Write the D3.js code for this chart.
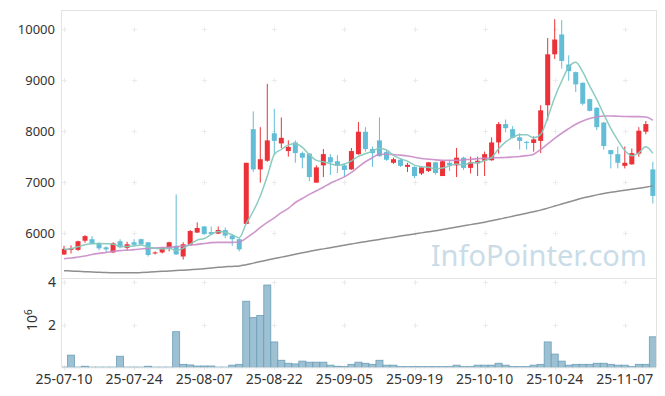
<!DOCTYPE html>
<html><head><meta charset="utf-8">
<script src="https://cdn.jsdelivr.net/npm/d3@7"></script>
<style>body{margin:0;background:#fff}svg{display:block}</style>
</head><body>
<svg id="c" width="665" height="396"></svg>
<script>
const dates = [
"25-07-10","25-07-11","25-07-14","25-07-15","25-07-16","25-07-17","25-07-18","25-07-21","25-07-22","25-07-23",
"25-07-24","25-07-25","25-07-28","25-07-29","25-07-30","25-07-31","25-08-01","25-08-04","25-08-05","25-08-06",
"25-08-07","25-08-08","25-08-11","25-08-12","25-08-13","25-08-14","25-08-18","25-08-19","25-08-20","25-08-21",
"25-08-22","25-08-25","25-08-26","25-08-27","25-08-28","25-08-29","25-09-01","25-09-02","25-09-03","25-09-04",
"25-09-05","25-09-08","25-09-09","25-09-10","25-09-11","25-09-12","25-09-15","25-09-16","25-09-17","25-09-18",
"25-09-19","25-09-22","25-09-23","25-09-24","25-09-25","25-09-26","25-09-29","25-09-30","25-10-01","25-10-02",
"25-10-10","25-10-13","25-10-14","25-10-15","25-10-16","25-10-17","25-10-20","25-10-21","25-10-22","25-10-23",
"25-10-24","25-10-27","25-10-28","25-10-29","25-10-30","25-10-31","25-11-03","25-11-04","25-11-05","25-11-06",
"25-11-07","25-11-10","25-11-11","25-11-12","25-11-13"];
const opens = [
5580,5670,5670,5850,5880,5800,5720,5620,5840,5710,
5820,5880,5820,5600,5620,5700,5750,5540,5770,6010,
6130,6020,5990,6060,5950,5880,6180,8040,7250,7420,
7960,7760,7610,7780,7570,7560,6990,7330,7490,7410,
7330,7250,7550,7990,7650,7820,7590,7380,7440,7300,
7300,7170,7220,7390,7120,7380,7330,7480,7280,7370,
7420,7430,7780,8140,8040,7880,7790,7770,7810,8510,
9510,9900,9310,9160,8950,8630,8460,8170,7630,7550,
7320,7350,7560,7990,7250];
const highs = [
5750,5760,5850,5960,5940,5820,5740,5820,5880,5830,
5880,5890,5820,5640,5720,5830,6760,5820,6060,6210,
6140,6130,6130,6110,5980,5900,7380,8390,8080,8930,
8440,8270,7820,7820,7600,7570,7330,7650,7550,7530,
7370,7670,8180,8080,7700,8270,7620,7480,7460,7380,
7310,7300,7390,7400,7430,7420,7670,7500,7500,7500,
7600,7880,8180,8230,8100,7960,7810,7900,8510,9830,
10200,10180,9490,9170,8960,8640,8470,8180,7630,7700,
7700,7660,8080,8200,7400];
const lows = [
5570,5600,5650,5810,5780,5660,5610,5610,5700,5670,
5740,5770,5540,5580,5600,5640,5570,5480,5760,6000,
5970,5960,5980,5900,5750,5640,6180,7200,6990,7400,
7550,7670,7500,7380,7270,7020,6990,7100,7140,7180,
7100,7240,7540,7600,7300,7500,7420,7360,7300,7200,
7080,7140,7200,7150,7120,7220,7100,7240,7170,7120,
7120,7420,7560,7980,7860,7640,7640,7600,7570,8210,
9420,9230,8990,8770,8510,8390,8020,7640,7270,7270,
7270,7340,7500,7940,6580];
const closes = [
5690,5700,5840,5940,5790,5700,5680,5800,5720,5780,
5770,5780,5570,5620,5710,5820,5580,5780,6040,6100,
5980,5980,6060,5950,5880,5680,7380,7250,7450,7820,
7810,7870,7690,7570,7480,7100,7290,7550,7390,7320,
7240,7610,7990,7650,7570,7510,7440,7450,7320,7340,
7120,7290,7390,7180,7410,7330,7480,7280,7390,7420,
7550,7780,8140,8060,7870,7810,7770,7840,8410,9510,
9800,9380,9180,8920,8540,8400,8080,7710,7550,7380,
7380,7570,8010,8140,6730];
const ma5 = [
5680,5690,5730,5770,5791,5794,5790,5782,5738,5735,
5748,5768,5722,5702,5689,5700,5659,5701,5784,5862,
5893,5974,6030,6012,5968,5909,6189,6428,6728,7118,
7543,7641,7727,7752,7683,7541,7427,7399,7361,7330,
7356,7419,7506,7558,7609,7664,7632,7525,7459,7412,
7335,7304,7291,7264,7277,7319,7358,7337,7378,7380,
7423,7483,7654,7790,7880,7933,7930,7870,7939,8267,
8664,8986,9255,9356,9163,8884,8625,8331,8057,7824,
7620,7518,7577,7694,7565];
const ma20 = [
5496,5510,5530,5550,5580,5602,5620,5640,5655,5665,
5675,5688,5700,5706,5714,5722,5731,5745,5760,5778,
5795,5812,5818,5818,5818,5825,5900,6000,6110,6210,
6300,6400,6484,6600,6680,6760,6830,6900,6980,7040,
7104,7190,7300,7400,7480,7548,7548,7540,7530,7515,
7490,7464,7450,7438,7431,7428,7428,7435,7451,7460,
7468,7475,7480,7484,7495,7505,7520,7548,7640,7750,
7860,7960,8050,8137,8200,8250,8280,8300,8300,8295,
8290,8287,8287,8280,8215];
const ma120 = [
5261,5255,5249,5243,5237,5231,5226,5222,5220,5220,
5220,5225,5232,5240,5249,5256,5264,5272,5280,5288,
5300,5315,5330,5338,5345,5353,5380,5410,5440,5471,
5500,5528,5556,5584,5612,5640,5667,5690,5714,5738,
5762,5786,5810,5832,5854,5876,5898,5920,5941,5962,
5983,6004,6025,6046,6070,6094,6118,6142,6166,6190,
6214,6240,6270,6300,6330,6360,6390,6420,6451,6490,
6530,6570,6610,6650,6690,6720,6750,6778,6800,6820,
6840,6860,6880,6900,6927];
const volumes = [ // millions
0.01,0.57,0.01,0.05,0.01,0.01,0.01,0.01,0.52,0.01,
0.01,0.01,0.05,0.01,0.01,0.01,1.67,0.14,0.11,0.06,
0.06,0.06,0.01,0.01,0.10,0.14,3.10,2.33,2.43,3.86,
1.19,0.33,0.19,0.16,0.29,0.24,0.24,0.24,0.10,0.05,
0.03,0.14,0.24,0.19,0.14,0.33,0.10,0.10,0.03,0.03,
0.03,0.03,0.03,0.03,0.03,0.03,0.10,0.03,0.03,0.10,
0.10,0.10,0.19,0.10,0.03,0.03,0.03,0.10,0.14,1.19,
0.62,0.29,0.10,0.14,0.14,0.14,0.19,0.19,0.14,0.10,
0.10,0.03,0.14,0.14,1.43];
const tickLabels = ["25-07-10","25-07-24","25-08-07","25-08-22","25-09-05","25-09-19","25-10-10","25-10-24","25-11-07"];
const priceTicks = [6000,7000,8000,9000,10000];
const volTicks = [2,4];

const svg = d3.select("#c");
const L = 62, R = 656, T = 10, M = 278, B = 367.3;
const x = d3.scaleBand().domain(dates).range([60.5, 656.35]).padding(0);
const cx = d => x(d) + x.bandwidth() / 2;
const yP = d3.scaleLinear().domain([5118, 10380]).range([M, T]);
const yV = d3.scaleLinear().domain([0, 4.19]).range([B, M]);
const font = "'Noto Sans', 'DejaVu Sans', sans-serif";
const frameC = "#e2e2e2";

const defs = svg.append("defs");
defs.append("clipPath").attr("id", "cp").append("rect").attr("x", L).attr("y", T).attr("width", R - L).attr("height", M - T);
defs.append("clipPath").attr("id", "cv").append("rect").attr("x", L).attr("y", M).attr("width", R - L).attr("height", B - M);

// watermark
svg.append("text").attr("x", 647).attr("y", 266).attr("text-anchor", "end")
  .attr("font-family", font).attr("font-size", 29).attr("fill", "#c9dce8").text("InfoPointer.com");

// grid crosses
const grid = svg.append("g").attr("stroke", "#ebebeb").attr("stroke-width", 1);
const rows = priceTicks.map(v => yP(v)).concat(volTicks.map(v => yV(v)), [yV(0)]);
tickLabels.forEach(t => {
  rows.forEach(ry => {
    const gx = Math.round(cx(t)) + 0.5, gy = Math.round(ry) + 0.5;
    grid.append("line").attr("x1", gx - 2.5).attr("x2", gx + 2.5).attr("y1", gy).attr("y2", gy);
    grid.append("line").attr("x1", gx).attr("x2", gx).attr("y1", gy - 2.5).attr("y2", gy + 2.5);
  });
});

// frame
const fr = svg.append("g").attr("stroke", frameC).attr("stroke-width", 1).attr("fill", "none");
fr.append("line").attr("x1", L - 0.5).attr("x2", L - 0.5).attr("y1", T).attr("y2", B);
fr.append("line").attr("x1", R + 0.5).attr("x2", R + 0.5).attr("y1", T).attr("y2", B);
fr.append("line").attr("x1", L).attr("x2", R).attr("y1", T + 0.5).attr("y2", T + 0.5);
fr.append("line").attr("x1", L).attr("x2", R).attr("y1", M + 0.5).attr("y2", M + 0.5);
fr.append("line").attr("x1", L).attr("x2", R).attr("y1", B + 0.5).attr("y2", B + 0.5);

// volume bars
const idx = d3.range(dates.length);
svg.append("g").attr("clip-path", "url(#cv)").selectAll("rect").data(idx).join("rect")
  .attr("x", i => x(dates[i]))
  .attr("width", x.bandwidth())
  .attr("y", i => yV(volumes[i]))
  .attr("height", i => yV(0) - yV(volumes[i]))
  .attr("fill", "#9dc1d3").attr("stroke", "#6a9eb8").attr("stroke-width", 0.8);

// candles
const up = "#ec3238", dn = "#63bdd7";
const cg = svg.append("g").attr("clip-path", "url(#cp)");
cg.selectAll("line.w").data(idx).join("line").attr("class", "w")
  .attr("x1", i => cx(dates[i])).attr("x2", i => cx(dates[i]))
  .attr("y1", i => yP(highs[i])).attr("y2", i => yP(lows[i]))
  .attr("stroke", i => closes[i] >= opens[i] ? up : dn).attr("stroke-width", 1);
cg.selectAll("rect.b").data(idx).join("rect").attr("class", "b")
  .attr("x", i => cx(dates[i]) - 2.5).attr("width", 5)
  .attr("y", i => yP(Math.max(opens[i], closes[i])))
  .attr("height", i => Math.max(1, Math.abs(yP(opens[i]) - yP(closes[i]))))
  .attr("fill", i => closes[i] >= opens[i] ? up : dn);

// moving averages
const mkLine = arr => d3.line().x((d, i) => cx(dates[i])).y(d => yP(d)).curve(d3.curveMonotoneX)(arr);
cg.append("path").attr("d", mkLine(ma120)).attr("fill", "none").attr("stroke", "#8e8e8e").attr("stroke-width", 1.5);
cg.append("path").attr("d", mkLine(ma20)).attr("fill", "none").attr("stroke", "#c98bc6").attr("stroke-width", 1.6).attr("stroke-opacity", 0.9);
cg.append("path").attr("d", mkLine(ma5)).attr("fill", "none").attr("stroke", "#86c8bd").attr("stroke-width", 1.5).attr("stroke-opacity", 0.95);

// axes
const styleAxis = g => {
  g.select(".domain").remove();
  g.selectAll("text").attr("font-family", font).attr("fill", "#333");
};
svg.append("g").attr("transform", `translate(${L},0)`)
  .call(d3.axisLeft(yP).tickValues(priceTicks).tickSize(0).tickPadding(7).tickFormat(d3.format("d")))
  .call(styleAxis).selectAll("text").attr("font-size", 13);
svg.append("g").attr("transform", `translate(${L},0)`)
  .call(d3.axisLeft(yV).tickValues(volTicks).tickSize(0).tickPadding(6).tickFormat(d3.format("d")))
  .call(styleAxis).selectAll("text").attr("font-size", 14);
svg.append("g").attr("transform", `translate(0,${B + 2})`)
  .call(d3.axisBottom(x).tickValues(tickLabels).tickSize(0).tickPadding(5))
  .call(styleAxis).selectAll("text").attr("font-size", 14);

// 10^6 label
const ul = svg.append("text").attr("transform", "translate(37,331) rotate(-90)")
  .attr("font-family", font).attr("font-size", 14).attr("fill", "#333");
ul.append("tspan").text("10");
ul.append("tspan").attr("dy", -5).attr("font-size", 10).text("6");
</script>
</body></html>
